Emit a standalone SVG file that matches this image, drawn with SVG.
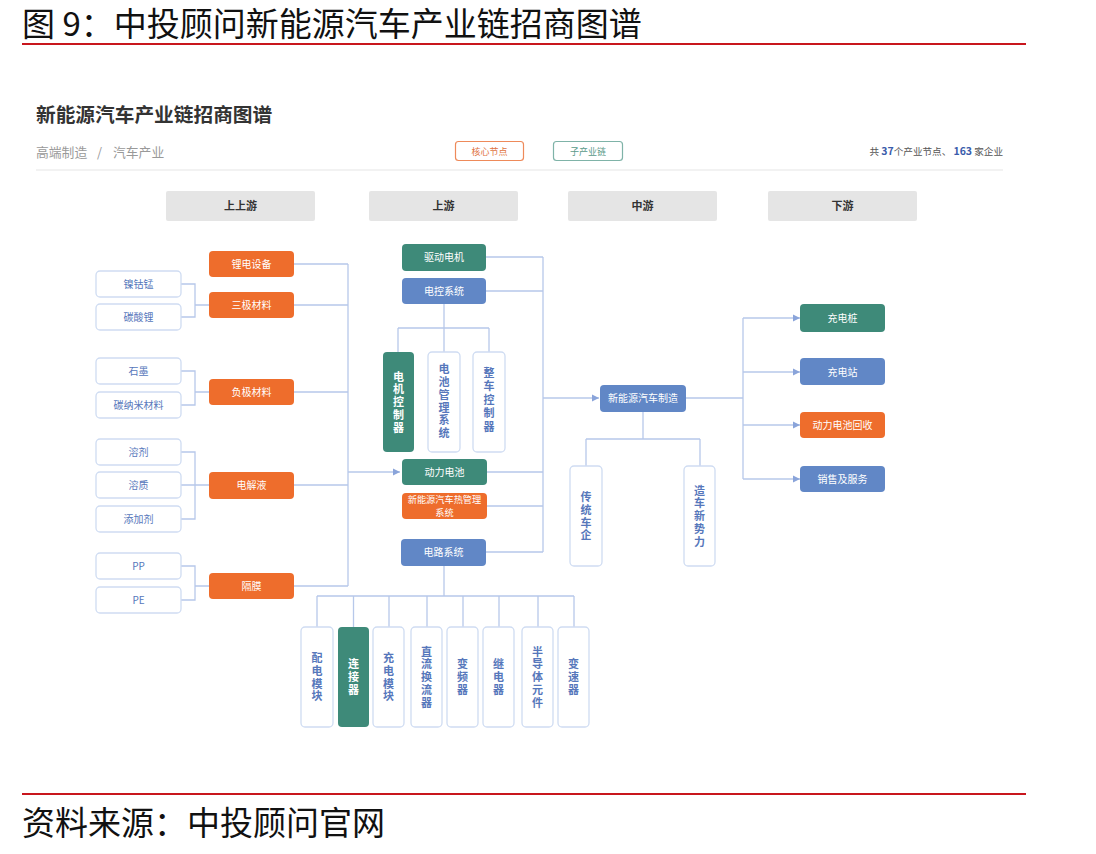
<svg xmlns="http://www.w3.org/2000/svg" width="1096" height="854" viewBox="0 0 1096 854">
<defs>
<style>
text{font-family:"Noto Sans CJK SC","Liberation Sans",sans-serif}
.bigt{font-size:33px;fill:#111}
.ln{stroke:#b7c8ea;stroke-width:1.3;fill:none}
.or{fill:#ee6d2c}
.gr{fill:#3e8a79}
.bl{fill:#6187c6}
.lf{fill:#fff;stroke:#cfdcf2;stroke-width:1.3}
.hd{fill:#e5e5e5}
.wt{fill:#fff;font-size:10px;text-anchor:middle}
.bt{fill:#5677bb;font-size:10px;text-anchor:middle}
.ht{fill:#333;font-size:11px;font-weight:bold;text-anchor:middle}
.vw{fill:#fff;font-size:11px;font-weight:bold;text-anchor:middle;writing-mode:vertical-rl;letter-spacing:1.8px}
.vb{fill:#5677bb;font-size:11px;font-weight:bold;text-anchor:middle;writing-mode:vertical-rl;letter-spacing:1.8px}
</style>
<marker id="ar" markerWidth="8" markerHeight="8" refX="7" refY="4" orient="auto" markerUnits="userSpaceOnUse">
<path d="M0,0.5 L7,4 L0,7.5 z" fill="#8aa4da"/>
</marker>
</defs>
<rect width="1096" height="854" fill="#fff"/>
<g id="title">
<text x="22" y="36" class="bigt">图 9：中投顾问新能源汽车产业链招商图谱</text>
<rect x="22" y="43" width="1004" height="2" fill="#c8161d"/>
</g>
<g id="footer">
<rect x="22" y="793" width="1004" height="2" fill="#c8161d"/>
<text x="22" y="835" class="bigt">资料来源：中投顾问官网</text>
</g>
<g id="header">
<text x="36" y="122" font-size="19.7" font-weight="bold" fill="#333">新能源汽车产业链招商图谱</text>
<text x="36" y="157" font-size="12.8" fill="#999">高端制造</text>
<text x="97" y="157" font-size="12.8" fill="#999">/</text>
<text x="113" y="157" font-size="12.8" fill="#999">汽车产业</text>
<rect x="455.5" y="141.5" width="68" height="19" rx="3" fill="#fff" stroke="#ee8a5a" stroke-width="1.2"/>
<text x="489.5" y="154.5" font-size="9" fill="#e0743f" text-anchor="middle">核心节点</text>
<rect x="553.5" y="141.5" width="69" height="19" rx="3" fill="#fff" stroke="#7fb3a8" stroke-width="1.2"/>
<text x="588" y="154.5" font-size="9" fill="#5a9a8a" text-anchor="middle">子产业链</text>
<text x="1003" y="155" font-size="9.6" fill="#555" text-anchor="end">共 <tspan font-weight="bold" fill="#3a5cab" font-size="10.5">37</tspan>个产业节点、 <tspan font-weight="bold" fill="#3a5cab" font-size="10.5">163</tspan> 家企业</text>
<rect x="36" y="169.5" width="967" height="1" fill="#e6e6e6"/>
</g>
<g id="stages">
<rect x="166" y="191" width="149" height="30" rx="2" class="hd"/><text x="240.5" y="210" class="ht">上上游</text>
<rect x="369" y="191" width="149" height="30" rx="2" class="hd"/><text x="443.5" y="210" class="ht">上游</text>
<rect x="568" y="191" width="149" height="30" rx="2" class="hd"/><text x="642.5" y="210" class="ht">中游</text>
<rect x="768" y="191" width="149" height="30" rx="2" class="hd"/><text x="842.5" y="210" class="ht">下游</text>
</g>
<g id="connectors">
<path class="ln" d="M181,284 H195 V317 H181 M195,305 H209"/>
<path class="ln" d="M181,371 H195 V405 H181 M195,392 H209"/>
<path class="ln" d="M181,452 H195 V519 H181 M181,485 H209"/>
<path class="ln" d="M181,566 H195 V600 H181 M195,586 H209"/>
<path class="ln" d="M294,264 H348 M294,305 H348 M294,392 H348 M294,485 H348 M294,586 H348 M348,264 V586"/>
<path class="ln" d="M348,472 H400" marker-end="url(#ar)"/>
<path class="ln" d="M486,257 H543 M486,291 H543 M487,472 H543 M487,506 H543 M486,552 H543 M543,257 V552"/>
<path class="ln" d="M543,398 H599" marker-end="url(#ar)"/>
<path class="ln" d="M444,304 V328 M398,328 H489 M398,328 V352 M444,328 V352 M489,328 V352"/>
<path class="ln" d="M444,566 V596 M317,596 H574 M317,596 V627 M353.5,596 V627 M389,596 V627 M427,596 V627 M463,596 V627 M499,596 V627 M538,596 V627 M574,596 V627"/>
<path class="ln" d="M686,398 H743 M743,318 V479"/>
<path class="ln" d="M743,318 H800" marker-end="url(#ar)"/>
<path class="ln" d="M743,372 H800" marker-end="url(#ar)"/>
<path class="ln" d="M743,425 H800" marker-end="url(#ar)"/>
<path class="ln" d="M743,479 H800" marker-end="url(#ar)"/>
<path class="ln" d="M643,412 V439 M586,439 H700 M586,439 V466 M700,439 V466"/>
</g>
<g id="n-niegumeng"><rect x="96" y="271" width="85" height="26" rx="4" class="lf"/><text x="138.5" y="288" class="bt">镍钴锰</text></g>
<g id="n-tansuanli"><rect x="96" y="304" width="85" height="26" rx="4" class="lf"/><text x="138.5" y="321" class="bt">碳酸锂</text></g>
<g id="n-shimo"><rect x="96" y="358" width="85" height="26" rx="4" class="lf"/><text x="138.5" y="375" class="bt">石墨</text></g>
<g id="n-tannami"><rect x="96" y="392" width="85" height="26" rx="4" class="lf"/><text x="138.5" y="409" class="bt">碳纳米材料</text></g>
<g id="n-rongji"><rect x="96" y="439" width="85" height="26" rx="4" class="lf"/><text x="138.5" y="456" class="bt">溶剂</text></g>
<g id="n-rongzhi"><rect x="96" y="472" width="85" height="26" rx="4" class="lf"/><text x="138.5" y="489" class="bt">溶质</text></g>
<g id="n-tianjiaji"><rect x="96" y="506" width="85" height="26" rx="4" class="lf"/><text x="138.5" y="523" class="bt">添加剂</text></g>
<g id="n-pp"><rect x="96" y="553" width="85" height="26" rx="4" class="lf"/><text x="138.5" y="570" class="bt">PP</text></g>
<g id="n-pe"><rect x="96" y="587" width="85" height="26" rx="4" class="lf"/><text x="138.5" y="604" class="bt">PE</text></g>
<g id="n-lidian"><rect x="209" y="251" width="85" height="26" rx="4" class="or"/><text x="251.5" y="268" class="wt">锂电设备</text></g>
<g id="n-sanji"><rect x="209" y="292" width="85" height="26" rx="4" class="or"/><text x="251.5" y="309" class="wt">三极材料</text></g>
<g id="n-fuji"><rect x="209" y="379" width="85" height="26" rx="4" class="or"/><text x="251.5" y="396" class="wt">负极材料</text></g>
<g id="n-dianjieye"><rect x="209" y="472" width="85" height="27" rx="4" class="or"/><text x="251.5" y="489" class="wt">电解液</text></g>
<g id="n-gemo"><rect x="209" y="573" width="85" height="26" rx="4" class="or"/><text x="251.5" y="590" class="wt">隔膜</text></g>
<g id="n-qudong"><rect x="402" y="244" width="84" height="27" rx="4" class="gr"/><text x="444" y="261" class="wt">驱动电机</text></g>
<g id="n-diankong"><rect x="402" y="278" width="84" height="26" rx="4" class="bl"/><text x="444" y="295" class="wt">电控系统</text></g>
<g id="n-dianji-kzq"><rect x="383" y="352" width="31" height="100" rx="4" class="gr"/><text x="398.5" y="403" class="vw">电机控制器</text></g>
<g id="n-bms"><rect x="428" y="352" width="32" height="100" rx="4" class="lf"/><text x="444" y="402" class="vb">电池管理系统</text></g>
<g id="n-zhengche"><rect x="473" y="352" width="32" height="100" rx="4" class="lf"/><text x="489" y="401" class="vb" style="letter-spacing:2.6px">整车控制器</text></g>
<g id="n-dongli"><rect x="402" y="459" width="85" height="26" rx="4" class="gr"/><text x="444.5" y="476" class="wt">动力电池</text></g>
<g id="n-reguanli"><rect x="402" y="493" width="85" height="26" rx="4" class="or"/><text x="444.5" y="502.5" class="wt" style="font-size:9.2px">新能源汽车热管理</text><text x="444.5" y="516" class="wt" style="font-size:9.2px">系统</text></g>
<g id="n-dianlu"><rect x="401" y="539" width="85" height="27" rx="4" class="bl"/><text x="443.5" y="556" class="wt">电路系统</text></g>
<g id="n-peidian"><rect x="301" y="627" width="32" height="100" rx="4" class="lf"/><text x="317" y="678" class="vb">配电模块</text></g>
<g id="n-lianjie"><rect x="338" y="627" width="31" height="100" rx="4" class="gr"/><text x="353.5" y="678" class="vw">连接器</text></g>
<g id="n-chongdianmk"><rect x="373" y="627" width="31" height="100" rx="4" class="lf"/><text x="388.5" y="678" class="vb">充电模块</text></g>
<g id="n-zhiliu"><rect x="411" y="627" width="31" height="100" rx="4" class="lf"/><text x="426.5" y="678" class="vb">直流换流器</text></g>
<g id="n-bianpin"><rect x="447" y="627" width="31" height="100" rx="4" class="lf"/><text x="462.5" y="678" class="vb">变频器</text></g>
<g id="n-jidian"><rect x="483" y="627" width="31" height="100" rx="4" class="lf"/><text x="498.5" y="678" class="vb">继电器</text></g>
<g id="n-bandaoti"><rect x="522" y="627" width="31" height="100" rx="4" class="lf"/><text x="537.5" y="678" class="vb">半导体元件</text></g>
<g id="n-biansu"><rect x="558" y="627" width="31" height="100" rx="4" class="lf"/><text x="573.5" y="678" class="vb">变速器</text></g>
<g id="n-zhizao"><rect x="600" y="385" width="86" height="27" rx="4" class="bl"/><text x="643" y="402" class="wt">新能源汽车制造</text></g>
<g id="n-chuantong"><rect x="570" y="466" width="32" height="100" rx="4" class="lf"/><text x="586" y="517" class="vb">传统车企</text></g>
<g id="n-zaoche"><rect x="684" y="466" width="31" height="100" rx="4" class="lf"/><text x="699.5" y="517" class="vb">造车新势力</text></g>
<g id="n-chongdianzhuang"><rect x="800" y="304" width="85" height="28" rx="4" class="gr"/><text x="842.5" y="322" class="wt">充电桩</text></g>
<g id="n-chongdianzhan"><rect x="800" y="358" width="85" height="27" rx="4" class="bl"/><text x="842.5" y="375.5" class="wt">充电站</text></g>
<g id="n-huishou"><rect x="800" y="412" width="85" height="26" rx="4" class="or"/><text x="842.5" y="429" class="wt">动力电池回收</text></g>
<g id="n-xiaoshou"><rect x="800" y="466" width="85" height="26" rx="4" class="bl"/><text x="842.5" y="483" class="wt">销售及服务</text></g>
</svg>
